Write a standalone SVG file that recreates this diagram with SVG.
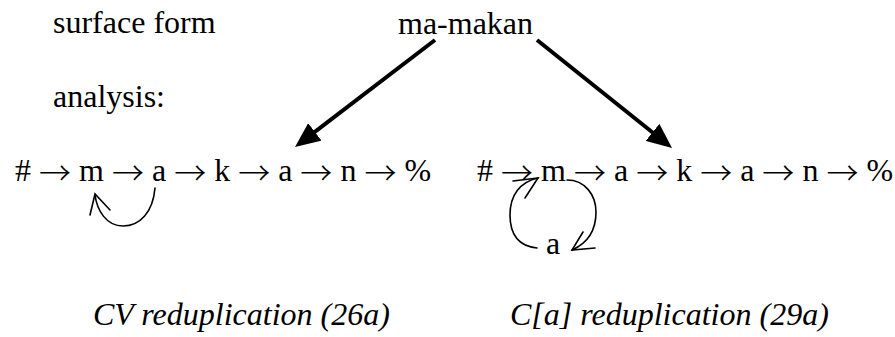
<svg xmlns="http://www.w3.org/2000/svg" width="895" height="337" viewBox="0 0 895 337">
<style>
.t { font-family: 'Liberation Serif', 'Times New Roman', serif; font-size: 32px; fill: #000; }
.it { font-style: italic; }
.ar { font-family: 'Noto Sans CJK JP', 'Liberation Serif', serif; font-weight: 300; }
.thick { stroke: #000; stroke-width: 4; fill: none; }
.thin { stroke: #000; stroke-width: 1.6; fill: none; stroke-linecap: round; }
</style>
<defs>
<marker id="head" viewBox="0 0 25 22" markerWidth="25" markerHeight="22" markerUnits="userSpaceOnUse" refX="5" refY="11" orient="auto">
<path d="M0,0 L25,11 L0,22 z" fill="#000"/>
</marker>
</defs>
<rect width="895" height="337" fill="#fff"/>
<g id="label-surface"><text class="t" x="53" y="33">surface form</text></g>
<g id="label-analysis"><text class="t" x="53" y="107">analysis:</text></g>
<g id="surface-word"><text class="t" x="398" y="34">ma-makan</text></g>
<g id="chain-cv"><text class="t" x="15" y="181">#  <tspan class="ar" dy="4">→</tspan><tspan dy="-4"> m </tspan><tspan class="ar" dy="4">→</tspan><tspan dy="-4"> a </tspan><tspan class="ar" dy="4">→</tspan><tspan dy="-4"> k </tspan><tspan class="ar" dy="4">→</tspan><tspan dy="-4"> a </tspan><tspan class="ar" dy="4">→</tspan><tspan dy="-4"> n </tspan><tspan class="ar" dy="4">→</tspan><tspan dy="-4"> %</tspan></text></g>
<g id="chain-ca"><text class="t" x="477" y="181">#  <tspan class="ar" dy="4">→</tspan><tspan dy="-4"> m </tspan><tspan class="ar" dy="4">→</tspan><tspan dy="-4"> a </tspan><tspan class="ar" dy="4">→</tspan><tspan dy="-4"> k </tspan><tspan class="ar" dy="4">→</tspan><tspan dy="-4"> a </tspan><tspan class="ar" dy="4">→</tspan><tspan dy="-4"> n </tspan><tspan class="ar" dy="4">→</tspan><tspan dy="-4"> %</tspan></text></g>
<g id="inserted-a"><text class="t" x="546" y="254">a</text></g>
<g id="caption-cv"><text class="t it" x="93" y="325">CV reduplication (26a)</text></g>
<g id="caption-ca"><text class="t it" x="510" y="325">C[a] reduplication (29a)</text></g>
<g id="connectors">
<line class="thick" x1="435" y1="40" x2="310.9" y2="134.9" marker-end="url(#head)"/>
<line class="thick" x1="537" y1="40" x2="656.4" y2="135.5" marker-end="url(#head)"/>
<path class="thin" d="M155,188 C153,212 140,226 123,226 C106,226 97,210 95,195"/>
<path class="thin" d="M90,215 L95,194 L110,210"/>
<path class="thin" d="M537,248 C517,246 510,232 510,215 C510,195 520,182 538,178"/>
<path class="thin" d="M513,181 L538,178 L525,198"/>
<path class="thin" d="M567,180 C585,180 596,195 596,212 C596,230 588,243 572,250"/>
<path class="thin" d="M583,232 L572,250 L595,248"/>
</g>
</svg>
